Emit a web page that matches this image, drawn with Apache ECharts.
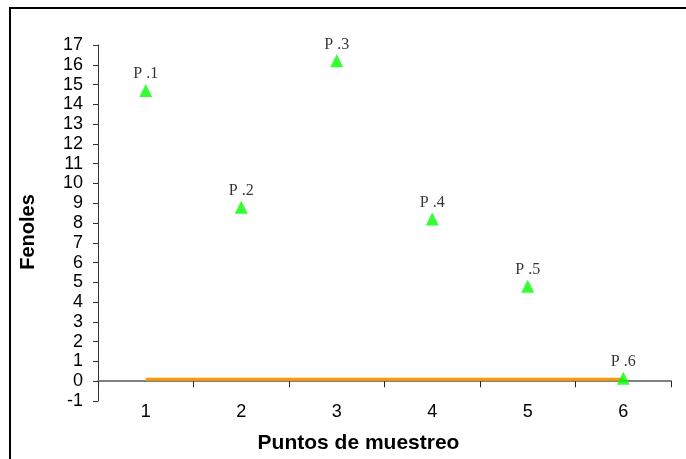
<!DOCTYPE html>
<html>
<head>
<meta charset="utf-8">
<script src="https://cdn.jsdelivr.net/npm/echarts@6/dist/echarts.min.js"></script>
<style>
html,body{margin:0;padding:0;background:#fff;}
#chart{width:686px;height:459px;}
</style>
</head>
<body>
<div id="chart"></div>
<script>
var categories = ['1', '2', '3', '4', '5', '6'];
var pointNames = ['P .1', 'P .2', 'P .3', 'P .4', 'P .5', 'P .6'];
var fenoles = [14.7, 8.8, 16.2, 8.2, 4.8, 0.15];
var limite = [0.1, 0.1, 0.1, 0.1, 0.1, 0.1];
var yMin = -1, yMax = 17, yStep = 1;

var chart = echarts.init(document.getElementById('chart'), null, {renderer: 'canvas'});
chart.setOption({
  backgroundColor: '#ffffff',
  animation: false,
  graphic: [{
    type: 'rect',
    shape: {x: 10, y: 8, width: 700, height: 470},
    style: {fill: 'none', stroke: '#000', lineWidth: 2},
    silent: true
  }],
  grid: {left: 98, right: 15, top: 45, bottom: 58, containLabel: false, outerBoundsMode: 'none'},
  xAxis: {
    type: 'category',
    data: categories,
    boundaryGap: true,
    name: 'Puntos de muestreo',
    nameLocation: 'middle',
    nameGap: 32,
    nameMoveOverlap: false,
    nameTextStyle: {fontFamily: 'Liberation Sans, Arial, sans-serif', fontWeight: 'bold', fontSize: 21, color: '#000', padding: [0, 52, 0, 0]},
    axisLine: {onZero: true, lineStyle: {color: '#808080', width: 2}},
    axisTick: {show: true, length: 6, lineStyle: {color: '#222', width: 1}},
    axisLabel: {margin: 2, fontFamily: 'Liberation Sans, Arial, sans-serif', fontSize: 18, color: '#000'},
    splitLine: {show: false}
  },
  yAxis: {
    type: 'value',
    min: yMin, max: yMax, interval: yStep,
    name: 'Fenoles',
    nameLocation: 'middle',
    nameRotate: 90,
    nameGap: 60,
    nameTextStyle: {fontFamily: 'Liberation Sans, Arial, sans-serif', fontWeight: 'bold', fontSize: 20, color: '#000', padding: [0, 18, 0, 0]},
    axisLine: {show: true, onZero: false, lineStyle: {color: '#333', width: 1}},
    axisTick: {show: true, length: 5, lineStyle: {color: '#333', width: 1}},
    axisLabel: {margin: 15, fontFamily: 'Liberation Sans, Arial, sans-serif', fontSize: 18, color: '#000'},
    splitLine: {show: false}
  },
  series: [{
    type: 'line',
    data: limite,
    showSymbol: false,
    symbol: 'none',
    lineStyle: {color: '#FF9900', width: 3},
    z: 2,
    silent: true
  }, {
    type: 'scatter',
    data: fenoles,
    symbol: 'triangle',
    symbolSize: 13,
    itemStyle: {color: '#00FF00'},
    z: 3,
    label: {
      show: true,
      position: 'top',
      distance: 2,
      fontFamily: 'Liberation Serif, Times New Roman, serif',
      fontSize: 16,
      color: '#000',
      formatter: function (p) { return pointNames[p.dataIndex]; }
    }
  }]
});
</script>
</body>
</html>
